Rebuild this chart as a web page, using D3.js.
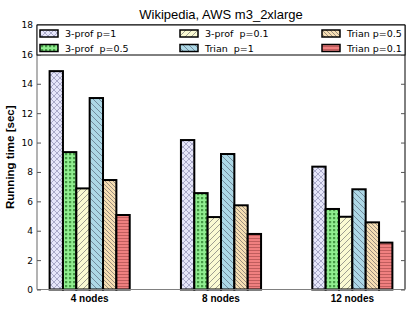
<!DOCTYPE html>
<html><head><meta charset="utf-8">
<script src="https://cdn.jsdelivr.net/npm/d3@7"></script>
<style>body{margin:0;background:#fff}svg{display:block}text{white-space:pre}</style>
</head><body>
<script>
const categories = ["4 nodes", "8 nodes", "12 nodes"];
const seriesNames = ["3-prof p=1", "3-prof  p=0.5", "3-prof  p=0.1", "Trian  p=1", "Trian p=0.5", "Trian p=0.1"];
const values = [
  [14.86, 10.17, 8.36],
  [9.35, 6.56, 5.48],
  [6.88, 4.93, 4.95],
  [13.03, 9.22, 6.82],
  [7.45, 5.73, 4.57],
  [5.07, 3.78, 3.19]
];
const yTicks = [0, 2, 4, 6, 8, 10, 12, 14, 16, 18];
const fills = ["#e6e6fa", "#90ee90", "#fafad2", "#add8e6", "#f5deb3", "#f08080"];
const hatches = ["x", "dot", "/", "\\", "\\\\", "-"];

const W = 415, H = 312;
const m = {l: 37, r: 10, t: 25, b: 22.5};
const svg = d3.select("body").append("svg").attr("width", W).attr("height", H);
const defs = svg.append("defs");

hatches.forEach((h, i) => {
  const s = (h === "\\\\") ? 4 : 6;
  const p = defs.append("pattern").attr("id", "h" + i).attr("patternUnits", "userSpaceOnUse")
    .attr("width", s).attr("height", s);
  p.append("rect").attr("width", s).attr("height", s).attr("fill", fills[i]);
  const st = "rgba(40,40,60,0.55)";
  if (h === "x") {
    p.append("path").attr("d", `M0,0L${s},${s}M${s},0L0,${s}`).attr("stroke", "rgba(60,60,110,0.45)").attr("stroke-width", 0.8);
  } else if (h === "dot") {
    p.append("rect").attr("x", 1).attr("y", 1).attr("width", 2.2).attr("height", 2.2).attr("fill", "rgba(20,100,20,0.6)");
    p.attr("width", 4).attr("height", 4);
    p.select("rect").attr("width", 4).attr("height", 4);
  } else if (h === "/") {
    p.append("path").attr("d", `M0,${s}L${s},0M${-s/2},${s/2}L${s/2},${-s/2}M${s/2},${s*1.5}L${s*1.5},${s/2}`).attr("stroke", st).attr("stroke-width", 0.8);
  } else if (h === "\\" || h === "\\\\") {
    p.append("path").attr("d", `M0,0L${s},${s}M${-s/2},${s/2}L${s/2},${s*1.5}M${s/2},${-s/2}L${s*1.5},${s/2}`).attr("stroke", st).attr("stroke-width", 0.8);
  } else if (h === "-") {
    p.attr("height", 3);
    p.select("rect").attr("height", 3);
    p.append("path").attr("d", `M0,1.5L${s},1.5`).attr("stroke", "rgba(120,40,40,0.5)").attr("stroke-width", 0.8);
  }
});

const x0 = d3.scaleBand().domain(categories).range([m.l, W - m.r]).paddingInner(0.39).paddingOuter(0.096);
const x1 = d3.scaleBand().domain(d3.range(seriesNames.length)).range([0, x0.bandwidth()]);
const y = d3.scaleLinear().domain([0, 18]).range([H - m.b, m.t]);

// bars
seriesNames.forEach((name, i) => {
  svg.append("g").selectAll("rect").data(values[i]).join("rect")
    .attr("x", (d, j) => x0(categories[j]) + x1(i))
    .attr("y", d => y(d))
    .attr("width", x1.bandwidth())
    .attr("height", d => y(0) - y(d))
    .attr("fill", `url(#h${i})`)
    .attr("stroke", "#000").attr("stroke-width", 2);
});

// axes frame
const x0p = m.l, x1p = W - m.r, yb = y(0), yt = y(18);
svg.append("line").attr("x1", x0p).attr("x2", x1p).attr("y1", yt).attr("y2", yt).attr("stroke", "#000").attr("stroke-width", 1);
svg.append("line").attr("x1", x1p).attr("x2", x1p).attr("y1", yt).attr("y2", yb).attr("stroke", "#000").attr("stroke-width", 1);
svg.append("line").attr("x1", x0p).attr("x2", x0p).attr("y1", yt).attr("y2", yb).attr("stroke", "#808080").attr("stroke-width", 1.2);
svg.append("line").attr("x1", x0p).attr("x2", x1p).attr("y1", yb).attr("y2", yb).attr("stroke", "#808080").attr("stroke-width", 1.2);

// y axis
const ya = svg.append("g").attr("transform", `translate(${x0p},0)`)
  .call(d3.axisLeft(y).tickValues(yTicks).tickSize(-4).tickPadding(4).tickFormat(d3.format("d")));
ya.select(".domain").remove();
ya.selectAll("line").attr("stroke", "#555");
ya.selectAll("text").attr("font-family", "DejaVu Sans").attr("font-size", 9).attr("fill", "#000");
const yr = svg.append("g").attr("transform", `translate(${x1p},0)`)
  .call(d3.axisRight(y).tickValues(yTicks).tickSize(-4).tickFormat(""));
yr.select(".domain").remove();
yr.selectAll("line").attr("stroke", "#555");

// x axis
const xa = svg.append("g").attr("transform", `translate(0,${yb})`)
  .call(d3.axisBottom(x0).tickSize(0).tickPadding(5));
xa.select(".domain").remove();
xa.selectAll("text").attr("font-family", "Liberation Sans, Arial").attr("font-weight", "bold").attr("font-size", 10).attr("fill", "#000");

// y label
svg.append("text").attr("transform", `translate(14,${(yt + yb) / 2}) rotate(-90)`)
  .attr("text-anchor", "middle").attr("font-family", "Liberation Sans, Arial").attr("font-weight", "bold").attr("font-size", 11.5)
  .text("Running time [sec]");

// title
svg.append("text").attr("x", (x0p + x1p) / 2).attr("y", 19).attr("text-anchor", "middle")
  .attr("font-family", "Liberation Sans, Arial").attr("font-size", 13).text("Wikipedia, AWS m3_2xlarge");

// legend
const lg = svg.append("g");
lg.append("rect").attr("x", x0p).attr("y", yt).attr("width", x1p - x0p).attr("height", 30)
  .attr("fill", "#fff").attr("stroke", "#000").attr("stroke-width", 1);
const colX = [40, 180, 322];
const rowY = [33.5, 48];
seriesNames.forEach((name, i) => {
  const c = Math.floor(i / 2), r = i % 2;
  lg.append("rect").attr("x", colX[c]).attr("y", rowY[r] - 3.5).attr("width", 18).attr("height", 7)
    .attr("fill", `url(#h${i})`).attr("stroke", "#000").attr("stroke-width", 1.5);
  lg.append("text").attr("x", colX[c] + 25).attr("y", rowY[r] + 3.5)
    .attr("font-family", "DejaVu Sans").attr("font-size", 9.5).text(name);
});
</script>
</body></html>
